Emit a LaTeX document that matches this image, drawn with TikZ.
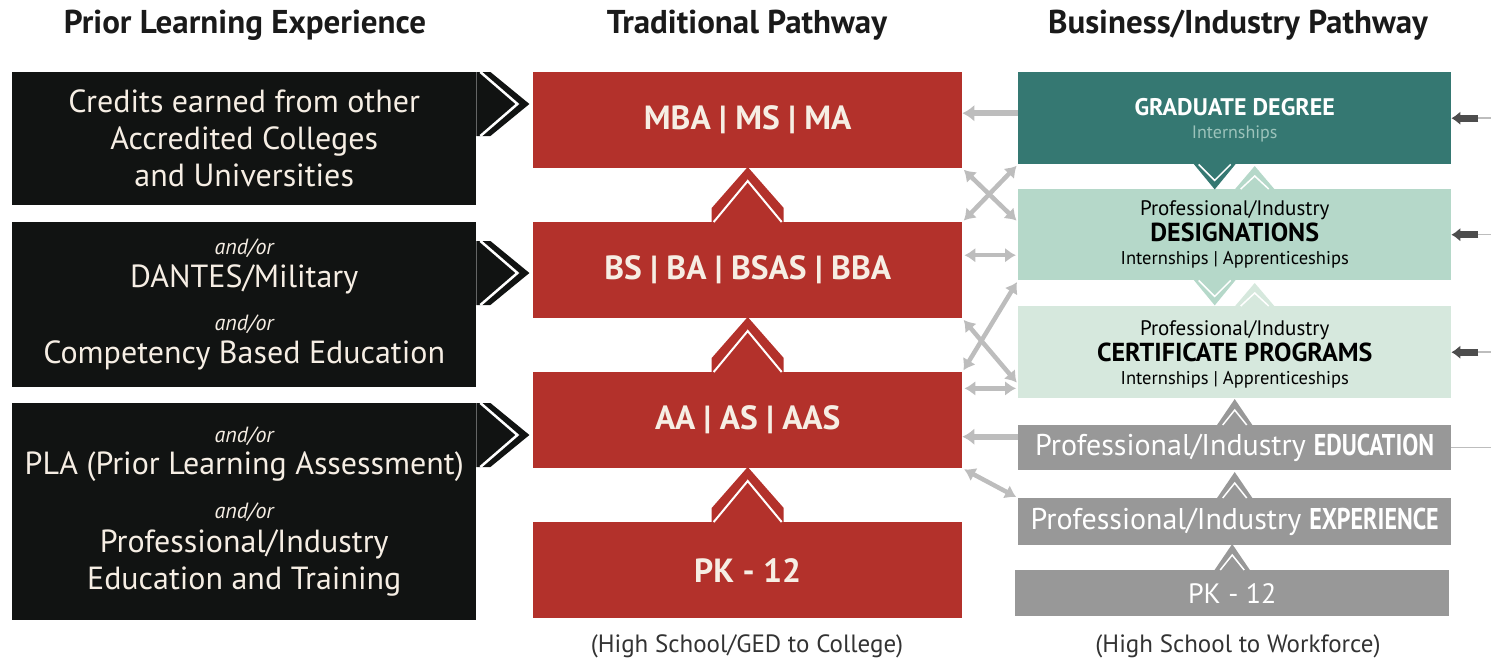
\documentclass[tikz,border=0pt]{standalone}
\usepackage{fontspec}
\setmainfont{PT Sans}
\newfontfamily\condfont[FakeStretch=0.8]{PT Sans}
\usetikzlibrary{arrows.meta,calc}

\definecolor{plblack}{HTML}{111312}
\definecolor{plcream}{HTML}{F6EEE4}
\definecolor{plred}{HTML}{B3312B}
\definecolor{plteal}{HTML}{357872}
\definecolor{plmint}{HTML}{B5D8C9}
\definecolor{plpale}{HTML}{D6E8DD}
\definecolor{plgray}{HTML}{989898}
\definecolor{plarrow}{HTML}{BDBDBD}
\definecolor{pldark}{HTML}{4D4D4D}
\definecolor{plintern}{HTML}{9CC3BB}
\definecolor{plhead}{HTML}{1A1A1A}
\definecolor{plsub}{HTML}{333333}

\newcommand{\andor}{\fontsize{22}{24}\selectfont\itshape}

\tikzset{
  head/.style={font=\bfseries\fontsize{33}{38}\selectfont, text=plhead},
  sub/.style={font=\fontsize{25}{30}\selectfont, text=plsub},
  prior/.style={fill=plblack, text=plcream, minimum width=464pt, anchor=north west,
    inner sep=0pt, align=center, font=\fontsize{32}{37}\selectfont},
  trad/.style={fill=plred, text=plcream, minimum width=429pt, minimum height=96pt,
    anchor=north west, inner sep=0pt, font=\bfseries\fontsize{33.5}{38}\selectfont},
  biz/.style={minimum width=433pt, anchor=north west, inner sep=0pt, align=center},
  garrow/.style={draw=plarrow, line width=6pt, -{Latex[length=12pt,width=17pt]}},
  gboth/.style={draw=plarrow, line width=4.5pt, {Latex[length=11pt,width=15pt]}-{Latex[length=11pt,width=15pt]},
    shorten <=2pt, shorten >=2pt},
  darrow/.style={draw=pldark, line width=7pt, -{Latex[length=9pt,width=14pt]}},
}

\begin{document}
\begin{tikzpicture}[x=1pt, y=1pt]
  \useasboundingbox (0,0) rectangle (1491,-662);
  \coordinate (rim) at (1491,0);

  % headings
  \node[head] (hprior) at (245,-25) {Prior Learning Experience};
  \node[head] (htrad) at (747,-25) {Traditional Pathway};
  \node[head] (hbiz) at (1238,-25) {Business/Industry Pathway};

  % prior learning column
  \node[prior, minimum height=133pt] (credits) at (12,-72)
    {Credits earned from other\\Accredited Colleges\\and Universities};
  \node[prior, minimum height=165pt] (dantes) at (12,-222)
    {{\andor and/or}\\[-4pt] DANTES/Military\\[6pt] {\andor and/or}\\[-4pt] Competency Based Education};
  \node[prior, minimum height=217pt] (pla) at (12,-403)
    {{\andor and/or}\\[-5pt] PLA (Prior Learning Assessment)\\[7pt] {\andor and/or}\\[-3pt]
     Professional/Industry\\ Education and Training};
  \foreach \n/\dy in {credits/0, dantes/-19, pla/0}{
    \begin{scope}[shift={([yshift=\dy pt]\n.north east)}]
      \fill[plblack] (0,0) -- (14,0) -- (53,-32) -- (14,-64) -- (0,-64) -- cycle;
      \draw[white, line width=2.5pt] (4,0) -- (41,-32) -- (4,-64);
    \end{scope}
  }

  % traditional pathway
  \node[trad] (mba) at (533,-72) {MBA | MS | MA};
  \node[trad] (bsba) at (533,-222) {BS | BA | BSAS | BBA};
  \node[trad] (aaas) at (533,-372) {AA | AS | AAS};
  \node[trad] (pktrad) at (533,-522) {PK - 12};
  \foreach \n in {bsba,aaas,pktrad}{
    \begin{scope}[shift={(\n.north)}]
      \fill[plred] (-36,-0.5) -- (-36,14) -- (0,55) -- (36,14) -- (36,-0.5) -- cycle;
      \draw[white, line width=2pt] (-34,0) -- (0,41) -- (34,0);
    \end{scope}
  }
  \node[sub] (subtrad) at (747,-646) {(High School/GED to College)};

  % business/industry pathway
  \node[biz, fill=plteal, minimum height=92pt, font=\fontsize{24}{26}\selectfont, text depth=0pt] (grad) at (1018,-72)
    {\textcolor{white}{\bfseries GRADUATE DEGREE}\\[-3pt] {\fontsize{18}{20}\selectfont\color{plintern}Internships}};
  \node[biz, fill=plmint, minimum height=91pt, font=\fontsize{21}{25}\selectfont] (desig) at (1018,-189)
    {Professional/Industry\\[1pt] {\bfseries\fontsize{26}{25}\selectfont DESIGNATIONS}\\[-2pt]
     {\fontsize{18.5}{21}\selectfont Internships | Apprenticeships}};
  \node[biz, fill=plpale, minimum height=92pt, font=\fontsize{21}{25}\selectfont, text depth=0pt] (cert) at (1018,-306)
    {Professional/Industry\\[1pt] {\bfseries\fontsize{26}{25}\selectfont CERTIFICATE PROGRAMS}\\[-2pt]
     {\fontsize{18.5}{21}\selectfont Internships | Apprenticeships}};
  \node[biz, fill=plgray, text=white, minimum height=45pt, font=\fontsize{30}{32}\selectfont] (edu) at (1018,-425)
    {Professional/Industry {\condfont\bfseries EDUCATION}};
  \node[biz, fill=plgray, text=white, minimum height=47pt, font=\fontsize{30}{32}\selectfont] (exper) at (1018,-498)
    {Professional/Industry {\condfont\bfseries EXPERIENCE}};
  \node[biz, fill=plgray, text=white, minimum width=434pt, minimum height=46pt, font=\fontsize{28}{30}\selectfont] (pkbiz) at (1015,-570)
    {PK - 12};
  \node[sub] (subbiz) at (1238,-646) {(High School to Workforce)};

  \foreach \n/\c in {grad/plteal, desig/plmint}{
    \begin{scope}[shift={([xshift=-20pt]\n.south)}]
      \fill[\c] (-21,0.5) -- (0,-25) -- (21,0.5) -- cycle;
      \draw[white, line width=1.5pt] (-16,0) -- (0,-16) -- (16,0);
    \end{scope}
  }
  \foreach \n/\c in {desig/plmint, cert/plpale}{
    \begin{scope}[shift={([xshift=20pt]\n.north)}]
      \fill[\c] (-20,-0.5) -- (0,23) -- (20,-0.5) -- cycle;
      \draw[white, line width=1.5pt] (-14,0) -- (0,13) -- (14,0);
    \end{scope}
  }
  \foreach \n in {edu,exper,pkbiz}{
    \begin{scope}[shift={(\n.north)}]
      \fill[plgray] (-18,-0.5) -- (0,26) -- (18,-0.5) -- cycle;
      \draw[white, line width=1.5pt] (-12,0) -- (0,15) -- (12,0);
    \end{scope}
  }

  % connectors between the pathways
  \draw[garrow] ([yshift=5pt]grad.west) -- ([yshift=5pt]grad.west -| mba.east);
  \draw[gboth] (mba.south east) -- (desig.west |- bsba.north);
  \draw[gboth] (bsba.north east) -- (grad.south west);
  \draw[gboth] ([yshift=15pt]bsba.east) -- ([yshift=15pt]bsba.east -| desig.west);
  \draw[gboth] (aaas.north east) -- (desig.south west);
  \draw[gboth] (bsba.south east) -- ([yshift=-12pt]aaas.north -| cert.west);
  \draw[gboth] ([yshift=10pt]cert.south west) -- ([yshift=10pt]cert.south west -| aaas.east);
  \draw[garrow] ([yshift=11pt]edu.west) -- ([yshift=11pt]edu.west -| aaas.east);
  \draw[gboth] (aaas.south east) -- (exper.north west);

  % inputs from the right
  \foreach \n in {grad,desig,cert}{
    \draw[plarrow, line width=1.5pt] (\n.east -| rim) -- ([xshift=27pt]\n.east);
    \draw[darrow] ([xshift=27pt]\n.east) -- (\n.east);
  }
  \draw[plarrow, line width=1.5pt] (edu.east) -- (edu.east -| rim);
\end{tikzpicture}
\end{document}
